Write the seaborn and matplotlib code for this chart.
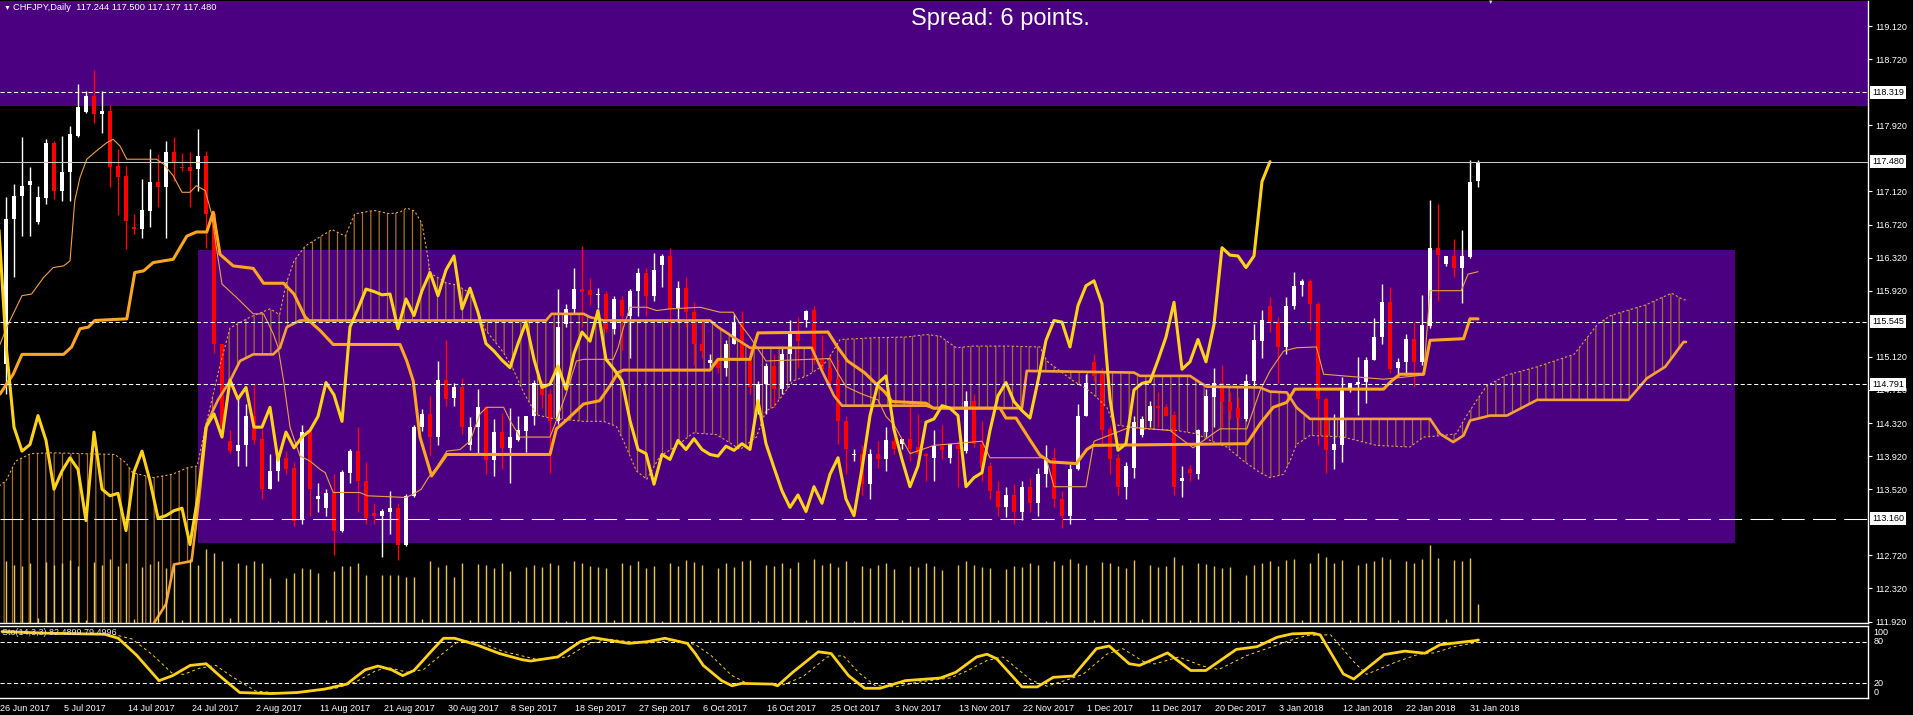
import numpy as np
import pandas as pd
import matplotlib
matplotlib.use("Agg")
import matplotlib.pyplot as plt
from matplotlib.patches import Rectangle
import seaborn as sns

# ---- daily CHFJPY bars (bar 0 = 27 Jun 2017, bar 184 = 1 Feb 2018) ----
opens = [
    115.03, 116.79, 117.06, 117.20, 116.75, 117.04, 117.71, 117.13, 117.35, 117.79,
    118.08, 118.27, 118.06, 118.09, 117.43, 117.31, 116.69, 116.67, 116.88, 117.24,
    117.17, 117.60, 117.42, 117.42, 117.39, 117.55, 116.85, 115.27, 114.10, 113.98,
    114.06, 114.41, 114.13, 113.52, 113.74, 113.90, 113.78, 113.16, 114.21, 113.40,
    113.29, 113.47, 113.02, 113.72, 113.98, 113.62, 113.23, 113.20, 113.25, 113.29,
    112.85, 113.44, 114.27, 114.43, 114.15, 114.84, 114.62, 114.75, 114.06, 114.27,
    114.51, 113.87, 114.21, 114.02, 114.11, 114.22, 114.40, 114.80, 114.67, 114.34,
    115.52, 115.70, 115.94, 115.93, 115.87, 115.88, 115.46, 115.81, 115.62, 115.92,
    116.14, 115.86, 116.23, 116.34, 115.70, 115.95, 115.66, 115.28, 115.04, 115.08,
    114.99, 115.27, 115.54, 115.11, 114.55, 114.79, 115.01, 114.73, 115.16, 115.42,
    115.56, 115.69, 115.09, 114.99, 114.85, 114.35, 113.93, 113.94, 113.58, 113.94,
    113.88, 114.10, 114.07, 114.13, 114.03, 113.95, 113.90, 114.04, 113.90, 114.06,
    113.98, 114.59, 114.07, 113.80, 113.50, 113.30, 113.45, 113.25, 113.55, 113.35,
    113.70, 113.90, 113.40, 113.20, 113.77, 114.41, 115.06, 114.91, 114.25, 113.90,
    113.55, 113.78, 114.17, 114.35, 114.53, 114.51, 114.42, 113.62, 113.76, 113.70,
    114.21, 114.64, 114.81, 114.58, 114.50, 114.37, 114.83, 115.31, 115.74, 115.54,
    115.24, 115.74, 115.99, 116.04, 115.76, 114.61, 113.99, 114.05, 114.73, 114.79,
    114.82, 115.08, 115.36, 115.78, 114.99, 115.06, 115.33, 115.06, 115.49, 116.44,
    116.24, 116.34, 116.20, 116.33, 117.244,
]
highs = [
    117.05, 117.21, 117.78, 117.41, 117.19, 117.75, 117.73, 117.79, 117.91, 118.42,
    118.33, 118.59, 118.33, 118.16, 117.63, 117.43, 116.85, 117.27, 117.63, 117.57,
    117.73, 117.78, 117.59, 117.60, 117.88, 117.61, 116.87, 115.28, 114.24, 114.61,
    114.55, 114.79, 114.25, 113.94, 113.96, 113.98, 113.85, 114.30, 114.27, 113.60,
    113.52, 113.70, 113.75, 114.00, 114.27, 113.85, 113.35, 113.28, 113.50, 113.35,
    113.46, 114.30, 114.49, 114.65, 115.07, 115.32, 114.81, 114.87, 114.39, 114.73,
    114.53, 114.37, 114.44, 114.50, 114.40, 114.40, 114.84, 114.83, 114.73, 115.94,
    115.76, 116.20, 116.46, 116.07, 115.95, 115.92, 115.86, 115.86, 115.94, 116.20,
    116.20, 116.38, 116.36, 116.44, 116.04, 116.08, 115.78, 115.55, 115.15, 115.11,
    115.32, 115.64, 115.68, 115.23, 114.83, 115.05, 115.15, 115.24, 115.56, 115.60,
    115.69, 115.74, 115.39, 115.15, 115.09, 114.41, 114.00, 114.05, 114.00, 114.10,
    114.27, 114.21, 114.13, 114.55, 114.43, 113.96, 114.23, 114.30, 114.07, 114.10,
    114.71, 114.67, 114.34, 113.85, 113.62, 113.55, 113.58, 113.62, 113.65, 113.78,
    114.05, 114.02, 113.50, 113.82, 114.55, 114.91, 115.16, 114.99, 114.29, 113.95,
    113.85, 114.41, 114.41, 114.59, 114.69, 114.55, 114.47, 113.80, 113.81, 114.25,
    114.73, 114.99, 115.02, 114.69, 114.63, 114.91, 115.52, 115.69, 115.84, 115.60,
    115.84, 116.15, 116.06, 116.06, 115.78, 114.63, 114.43, 114.88, 114.81, 115.12,
    115.12, 115.59, 116.00, 115.96, 115.11, 115.40, 115.54, 115.87, 117.02, 116.97,
    116.34, 116.54, 116.65, 117.50, 117.500,
]
lows = [
    114.67, 116.08, 116.58, 116.58, 116.73, 116.97, 117.03, 117.01, 117.01, 117.78,
    118.07, 117.95, 117.83, 117.17, 116.83, 116.42, 116.61, 116.56, 116.69, 116.93,
    116.56, 117.25, 117.37, 116.93, 117.13, 116.44, 115.17, 114.25, 113.96, 113.80,
    113.80, 114.07, 113.40, 113.52, 113.62, 113.70, 113.08, 113.10, 113.20, 113.25,
    113.20, 112.73, 113.00, 113.60, 113.25, 113.10, 113.10, 112.70, 112.98, 112.66,
    112.83, 113.42, 114.22, 113.93, 114.05, 114.53, 114.53, 114.19, 113.99, 113.95,
    113.70, 113.68, 113.76, 113.60, 114.10, 113.97, 114.30, 114.50, 113.72, 114.31,
    115.48, 115.64, 115.48, 115.75, 115.71, 115.42, 115.40, 115.20, 115.11, 115.62,
    115.62, 115.80, 115.97, 115.48, 115.54, 115.48, 115.02, 115.11, 114.99, 114.93,
    114.89, 115.27, 115.09, 114.67, 114.43, 114.43, 114.51, 114.67, 114.83, 114.99,
    115.48, 115.03, 114.95, 114.73, 114.07, 113.70, 113.86, 113.45, 113.40, 113.78,
    113.74, 113.94, 114.00, 113.86, 113.94, 113.62, 113.62, 113.88, 113.84, 113.55,
    113.96, 114.03, 113.62, 113.40, 113.20, 113.18, 113.10, 113.15, 113.25, 113.20,
    113.55, 113.30, 113.05, 113.10, 113.75, 114.40, 114.83, 114.07, 113.70, 113.45,
    113.40, 113.66, 114.15, 114.27, 114.27, 114.41, 113.45, 113.42, 113.62, 113.64,
    114.15, 114.27, 114.27, 114.37, 114.27, 114.35, 114.75, 115.11, 115.42, 114.80,
    115.15, 115.70, 115.85, 115.45, 114.06, 113.72, 113.77, 113.85, 114.69, 114.42,
    114.56, 115.08, 115.27, 114.93, 114.90, 114.90, 114.76, 115.02, 115.47, 115.80,
    116.22, 116.08, 115.77, 116.32, 117.177,
]
closes = [
    116.79, 117.07, 117.19, 117.25, 117.05, 117.71, 117.13, 117.36, 117.81, 118.14,
    118.27, 118.06, 118.09, 117.42, 117.29, 116.76, 116.67, 116.89, 117.24, 117.17,
    117.60, 117.46, 117.40, 117.37, 117.55, 116.85, 115.27, 114.27, 113.98, 114.06,
    114.41, 114.11, 113.52, 113.74, 113.90, 113.76, 113.14, 114.21, 113.52, 113.44,
    113.47, 113.02, 113.73, 113.98, 113.62, 113.17, 113.20, 113.26, 113.29, 112.85,
    113.44, 114.27, 114.43, 114.15, 114.84, 114.61, 114.75, 114.27, 114.27, 114.51,
    113.87, 114.21, 114.02, 114.15, 114.23, 114.40, 114.81, 114.66, 114.34, 115.48,
    115.70, 115.94, 115.91, 115.87, 115.88, 115.46, 115.82, 115.62, 115.92, 116.14,
    115.86, 116.17, 116.34, 115.70, 115.95, 115.66, 115.28, 115.19, 115.08, 114.99,
    115.28, 115.54, 115.09, 114.75, 114.79, 115.01, 114.73, 115.16, 115.42, 115.31,
    115.68, 115.09, 114.97, 114.83, 114.35, 114.00, 113.95, 113.58, 113.94, 113.88,
    114.11, 114.00, 114.13, 114.00, 113.94, 113.92, 114.04, 113.99, 114.07, 114.00,
    114.59, 114.07, 113.78, 113.50, 113.30, 113.45, 113.25, 113.55, 113.35, 113.70,
    113.90, 113.40, 113.20, 113.77, 114.41, 114.80, 114.89, 114.24, 113.88, 113.55,
    113.80, 114.33, 114.37, 114.53, 114.50, 114.41, 113.55, 113.66, 113.72, 114.23,
    114.65, 114.81, 114.58, 114.47, 114.38, 114.83, 115.32, 115.56, 115.54, 115.24,
    115.74, 115.98, 116.04, 115.76, 114.61, 113.99, 114.07, 114.72, 114.80, 114.82,
    115.08, 115.36, 115.78, 114.97, 115.06, 115.33, 115.06, 115.51, 116.44, 116.35,
    116.34, 116.20, 116.34, 117.24, 117.480,
]
tick_volume = [
    62, 58, 57, 60, 5, 61, 58, 60, 63, 57, 3, 61, 58, 64, 57, 60, 4, 56,
    59, 62, 55, 58, 3, 64, 58, 74, 70, 62, 5, 60, 58, 62, 60, 45, 2, 45,
    50, 55, 54, 50, 3, 52, 57, 57, 60, 48, 1, 48, 48, 48, 46, 46, 4, 62,
    56, 58, 46, 60, 3, 59, 58, 55, 60, 52, 2, 56, 58, 56, 60, 58, 2, 62,
    60, 57, 56, 55, 3, 60, 58, 62, 55, 57, 2, 60, 57, 63, 61, 58, 3, 55,
    60, 56, 62, 63, 2, 58, 57, 60, 55, 61, 3, 64, 58, 60, 56, 62, 2, 57,
    55, 58, 60, 54, 3, 57, 56, 60, 57, 53, 2, 58, 62, 58, 56, 55, 3, 54,
    57, 56, 60, 58, 2, 62, 58, 64, 60, 58, 3, 61, 60, 57, 55, 63, 4, 58,
    56, 57, 66, 58, 3, 60, 59, 57, 55, 56, 2, 48,
    58, 60, 62, 57, 63, 64, 3, 60, 70, 66, 60, 63, 3, 58, 60, 62, 66, 64,
    3, 62, 60, 64, 78, 65, 4, 63, 62, 65, 19,
]

date_tick_bars = [-1, 7, 15, 23, 31, 39, 47, 55, 63, 71, 79, 87, 95, 103, 111, 119,
                  127, 135, 143, 151, 159, 167, 175, 183]
date_labels = ["26 Jun 2017", "5 Jul 2017", "14 Jul 2017", "24 Jul 2017", "2 Aug 2017",
               "11 Aug 2017", "21 Aug 2017", "30 Aug 2017", "8 Sep 2017", "18 Sep 2017",
               "27 Sep 2017", "6 Oct 2017", "16 Oct 2017", "25 Oct 2017", "3 Nov 2017",
               "13 Nov 2017", "22 Nov 2017", "1 Dec 2017", "11 Dec 2017", "20 Dec 2017",
               "3 Jan 2018", "12 Jan 2018", "22 Jan 2018", "31 Jan 2018"]

# ---- Ichimoku lines, vertices (bar, price) ----
tenkan_x = [-0.75, 0.1, 0.9, 2, 3.2, 4.7, 5.9, 7.2, 8, 8.6, 9.25, 10.1, 11.3, 12.6, 13.4,
            14.25, 15.1, 18.8, 19.7, 20.9, 22, 23, 23.8, 24.9, 25.7, 26.3, 27, 28.8, 30.9,
            32.2, 33.4, 34, 34.7, 35.5, 36.75, 38, 39.25, 39.9, 40.9, 44.2, 45.2, 50, 50.9,
            51.9, 52.8, 53.8, 55.1, 56.75, 58, 59.25, 60.1, 62.2, 63, 64.25, 68, 68.8, 70,
            71.3, 72.2, 75.9, 76.5, 77.2, 78, 80.1, 81.3, 83, 86.75, 89.25, 90.9, 91.75, 93,
            95, 103, 104, 105, 107, 109, 110, 111, 113, 116, 122, 123, 130, 131, 135, 136,
            140.5, 145.5, 148.4, 151.75, 155.1, 156.75, 158, 159.7, 161.3, 163.8, 164.7,
            172.2, 177.2, 178, 181.9, 182.75, 184]
tenkan_y = [115.27, 115.48, 115.64, 115.86, 115.88, 116.08, 116.20, 116.22, 116.28, 117.01,
            117.29, 117.51, 117.61, 117.71, 117.75, 117.67, 117.51, 117.51, 117.45, 117.31,
            117.11, 117.11, 117.19, 117.13, 116.85, 116.44, 116.00, 115.84, 115.64, 115.64,
            115.40, 115.24, 114.83, 114.27, 113.92, 113.86, 113.76, 113.72, 113.48, 113.48,
            113.44, 113.42, 113.46, 113.52, 113.66, 113.78, 113.98, 114.00, 114.10, 114.43,
            114.51, 114.51, 114.35, 114.15, 114.15, 114.35, 114.67, 115.07, 115.09, 115.09,
            115.23, 115.48, 115.72, 115.72, 115.68, 115.70, 115.72, 115.66, 115.66, 115.52,
            115.36, 115.07, 115.10, 114.92, 114.76, 114.67, 114.60, 114.40, 114.30, 113.95,
            114.05, 114.10, 113.90, 113.90, 113.55, 113.55, 114.10, 114.27, 114.23, 114.02,
            114.25, 114.25, 114.71, 114.95, 115.19, 115.23, 115.24, 114.91, 114.85, 114.90,
            115.92, 115.92, 116.12, 116.15]
kijun_x = [-0.75, 0.9, 2, 7.2, 8.2, 9.25, 10.3, 11.1, 15.1, 16.1, 17.2, 18.4, 20.9, 22.6,
           23.8, 25.1, 25.9, 26.75, 28.4, 30.9, 32.2, 34.7, 36, 37.4, 39.25, 40.9, 49.25,
           50.1, 50.9, 51.75, 53.2, 55.1, 68, 68.8, 70, 72.2, 74.2, 75.5, 76.5, 77.2, 88,
           89, 93, 94, 102.75, 104, 105.2, 107.3, 109, 109.9, 110.75, 115, 115.9, 124.25,
           125, 126.25, 127.9, 129.25, 130.5, 133.8, 135.1, 135.9, 155.1, 156.75, 158.4,
           160.1, 161.1, 172.2, 173.2, 174.25, 177.2, 178, 182.2, 183, 184]
kijun_y = [114.67, 114.91, 115.15, 115.15, 115.24, 115.46, 115.48, 115.56, 115.58, 116.14,
           116.16, 116.26, 116.30, 116.58, 116.63, 116.63, 116.87, 116.36, 116.22, 116.19,
           116.01, 116.01, 115.88, 115.60, 115.44, 115.27, 115.27, 115.07, 114.83, 114.15,
           113.68, 113.94, 113.94, 114.25, 114.35, 114.55, 114.59, 114.77, 114.93, 114.96,
           114.96, 115.09, 115.09, 115.41, 115.42, 115.23, 115.07, 114.93, 114.77, 114.69,
           114.58, 114.56, 114.50, 114.50, 114.38, 114.38, 114.13, 113.93, 113.85, 113.83,
           114.00, 114.05, 114.07, 114.31, 114.51, 114.57, 114.73, 114.73, 114.83, 114.91,
           114.91, 115.32, 115.34, 115.58, 115.58]
senkou_a_x = [-1, 0, 1.2, 3.1, 5.5, 13.6, 15, 15.8, 18.4, 20.8, 22.7, 23.9, 25, 26.7, 28,
              30.5, 33, 34.2, 35, 36, 37.4, 40.75, 42.4, 43.6, 46, 48, 49.25, 50.1, 51.1, 52,
              52.8, 53, 53.8, 55.1, 56.3, 58, 59.25, 59.9, 60.9, 62.2, 63.4, 64.7, 66.3, 68,
              72.2, 74.7, 76.3, 77.2, 78.8, 80.1, 81.75, 83.8, 85.9, 88.8, 90.5, 91.75, 93.8,
              95, 95.9, 97.2, 98.4, 100.1, 101.75, 102.6, 103.4, 104.25, 108.4, 112.6, 115.1,
              116.75, 117.6, 118.8, 120.9, 125.1, 129.25, 130.1, 131.75, 133.4, 135.1, 135.9,
              137.6, 138.5, 142.2, 146.3, 148.8, 150.5, 152.6, 154.7, 156.75, 158, 159.7,
              160.5, 161.3, 163, 167.2, 171.3, 175.5, 177.2, 179.7, 181.3, 182.2, 183.8,
              185.1, 187.6, 191.4, 196, 199, 200.6, 205, 208.2, 209.7, 210]
senkou_a_y = [113.55, 113.62, 113.86, 113.95, 113.96, 113.94, 113.84, 113.72, 113.66, 113.70,
              113.78, 113.80, 114.30, 115.00, 115.47, 115.60, 115.70, 115.63, 116.00, 116.28,
              116.46, 116.66, 116.58, 116.85, 116.89, 116.85, 116.87, 116.92, 116.88, 116.73,
              116.29, 116.13, 116.09, 116.01, 115.99, 115.89, 115.61, 115.45, 115.33, 115.17,
              114.97, 114.69, 114.42, 114.38, 114.34, 114.34, 114.28, 114.10, 113.74, 113.64,
              113.92, 114.04, 114.20, 114.18, 114.08, 114.00, 114.15, 114.47, 114.51, 114.67,
              114.83, 114.89, 114.99, 115.07, 115.19, 115.33, 115.35, 115.36, 115.39, 115.37,
              115.31, 115.23, 115.25, 115.25, 115.24, 115.07, 114.95, 114.83, 114.73, 114.67,
              114.51, 114.30, 114.25, 114.23, 114.19, 114.11, 114.03, 113.86, 113.72, 113.66,
              113.70, 113.86, 114.06, 114.17, 114.15, 114.05, 114.03, 114.15, 114.17, 114.19,
              114.35, 114.59, 114.77, 114.90, 115.00, 115.15, 115.52, 115.62, 115.75, 115.89,
              115.81, 115.81]
senkou_b_x = [-1, 17.7, 18.5, 20, 21, 23.2, 24.1, 25.1, 26.5, 28, 29.25, 30.9, 33.4, 34.25,
              35.1, 36.75, 67.5, 68.2, 72.2, 73, 74.7, 88, 89, 90.9, 93, 100.7, 102, 103.5,
              104.5, 115, 116, 127, 127.6, 141, 141.75, 148, 149.25, 150.1, 156.75, 158, 160.1,
              161.3, 163, 178, 179.25, 180.9, 182.2, 183, 185.5, 187.6, 191.4, 202.8, 205.1,
              207.4, 209.7, 210]
senkou_b_y = [111.5, 111.6, 111.9, 112.13, 112.61, 112.65, 113.38, 114.31, 114.60, 114.83,
              115.07, 115.15, 115.15, 115.23, 115.48, 115.56, 115.56, 115.64, 115.64, 115.60,
              115.56, 115.56, 115.48, 115.36, 115.23, 115.23, 114.95, 114.65, 114.53, 114.53,
              114.50, 114.50, 114.95, 114.93, 114.89, 114.89, 114.81, 114.76, 114.75, 114.70,
              114.69, 114.51, 114.37, 114.37, 114.19, 114.09, 114.17, 114.35, 114.41, 114.41,
              114.60, 114.60, 114.86, 115.00, 115.30, 115.30]
chikou_shift = 26

# ---- Stochastic(14,3,3) vertices (bar, value) ----
stoch_k_x = [-0.75, 4.9, 12.1, 13.8, 16.1, 18.9, 20.6, 22.8, 24.8, 26.7, 29, 32.9, 36.2, 39.6,
             42.4, 44.7, 46.3, 48, 49.4, 50.8, 53.1, 54.5, 55.9, 58.7, 61.5, 64.3, 65.4, 68.8,
             71.6, 73.2, 75.5, 77.7, 80, 82.2, 85, 86, 87, 89.3, 90.6, 91.8, 95.7, 96.3, 98.2,
             101.4, 103, 105.2, 107.2, 109.1, 112.3, 116.7, 118.6, 121.2, 122.5, 123.7, 126.9,
             128.8, 130.8, 133.3, 136.2, 137.8, 140.3, 141.6, 145.1, 148, 149.9, 153.7, 156.3,
             158.8, 160.7, 163.3, 164.2, 167.1, 168.4, 172.2, 174.8, 177.3, 179.2, 183.7, 184]
stoch_k_y = [94.6, 92.2, 90.7, 84.9, 60.5, 23.9, 31.2, 45.9, 48.3, 28.8, 6.9, 5.4, 6.9, 11.8,
             19.1, 39.6, 45.0, 39.6, 31.2, 38.6, 67.9, 84.9, 84.9, 75.2, 63.0, 54.2, 52.2, 58.1,
             80.0, 85.9, 81.5, 77.6, 80.0, 84.9, 77.6, 63.0, 45.9, 24.0, 16.6, 20.0, 19.0, 16.6,
             36.0, 65.5, 63.0, 31.0, 13.0, 13.0, 24.0, 27.8, 36.0, 58.0, 62.0, 55.6, 15.0, 15.0,
             28.8, 30.7, 70.0, 73.8, 48.3, 45.9, 63.9, 38.6, 38.6, 68.9, 72.8, 86.4, 91.3, 92.2,
             89.8, 33.6, 26.3, 61.5, 66.4, 63.4, 75.6, 81.7, 82.5]
stoch_d_x = [-0.75, 6, 13, 15.5, 18, 20.5, 22, 24, 26, 28, 31, 34, 37.5, 41, 43.5, 46, 47.5, 50,
             52, 54.5, 56.5, 59, 62, 66, 70, 72.5, 75, 77, 80, 83.5, 86, 88, 90.5, 92.5, 97,
             99.5, 102.5, 104.5, 106.5, 108.5, 111, 114, 118, 120, 122.5, 124.5, 128, 130,
             132.5, 134.5, 137.5, 139.5, 142, 143.5, 146.5, 149.5, 151.5, 155, 158, 160.5,
             162.5, 165.5, 168.5, 170, 173.5, 176.5, 178.5, 181, 184]
stoch_d_y = [93, 92.5, 91, 84, 62, 35, 33, 42, 46, 30, 9, 6, 8, 13, 22, 38, 43, 36, 40, 64, 82,
             79, 66, 55, 58, 76, 84, 81, 78, 82, 76, 60, 32, 20, 18, 30, 58, 60, 35, 17, 15, 22,
             28, 38, 53, 58, 25, 16, 25, 33, 62, 70, 52, 48, 58, 45, 40, 60, 72, 82, 89, 90, 50,
             33, 50, 62, 64, 73, 79.5]

# ---- chart objects ----
# regular price-scale labels (the ones hidden under the level boxes are left out)
price_ticks = [111.92, 112.32, 112.72, 113.52, 113.92, 114.32, 114.72, 115.12,
               115.92, 116.32, 116.72, 117.12, 117.92, 118.72, 119.12]
level_prices = [118.319, 117.480, 115.545, 114.791, 113.160]
level_styles = [(0, (4, 2.5)), "-", (0, (4, 2.5)), (0, (4, 2.5)), (0, (22, 8))]
level_colors = ["white", "#C8C8C8", "white", "white", "white"]
top_zone_low = 118.157
zone_bars = [24.04, 216.1]
zone_prices = [112.87, 116.41]

ZONE = "#4B0082"
CHIKOU = "#FFD21A"
KIJUN = "#FFA51E"
TENKAN = "#F0A040"
SPAN_B = "#F7A035"
SPAN_A = "#E8A048"
HATCH = "#A86E2C"
VOL = "#E8C45C"

sns.set_style("dark")
plt.rcParams["font.family"] = ["Liberation Sans", "DejaVu Sans"]
plt.rcParams["hatch.linewidth"] = 0.9

df = pd.DataFrame({"open": opens, "high": highs, "low": lows, "close": closes,
                   "volume": tick_volume})
df["bar"] = np.arange(len(df))

W, H = 1913, 715
fig = plt.figure(figsize=(W / 100, H / 100), dpi=100, facecolor="black")
ax = fig.add_axes([0, 1 - 623 / H, 1868 / W, 622 / H])
ax_st = fig.add_axes([0, 1 - 698.3 / H, 1868 / W, 72.6 / H])
for a in (ax, ax_st):
    a.set_facecolor("black")
    a.grid(False)


def line(axis, xs, ys, color, lw, ls="-", z=3):
    sns.lineplot(x=xs, y=ys, ax=axis, color=color, linewidth=lw, linestyle=ls,
                 estimator=None, sort=False, legend=False, zorder=z)


# background zones
ax.axhspan(top_zone_low, 120, color=ZONE, lw=0, zorder=0)
ax.add_patch(Rectangle((zone_bars[0], zone_prices[0]), zone_bars[1] - zone_bars[0],
                       zone_prices[1] - zone_prices[0], color=ZONE, lw=0, zorder=0))

# kumo cloud
ax.fill(senkou_a_x + senkou_b_x[::-1], senkou_a_y + senkou_b_y[::-1],
        facecolor="none", edgecolor=HATCH, hatch="||", lw=0, zorder=1)

# candles
up = df["close"] >= df["open"]
colors = np.where(up, "white", "#FF0000")
ax.vlines(df["bar"], df["low"], df["high"], colors=colors, lw=1, zorder=2)
body = (df["close"] - df["open"]).abs().clip(lower=0.012)
ax.bar(df["bar"], body, bottom=df[["open", "close"]].min(axis=1), width=0.62,
       color=colors, lw=0, zorder=2.1)

# ichimoku lines
line(ax, senkou_a_x, senkou_a_y, SPAN_A, 0.8, ls=(0, (2, 2)), z=3)
line(ax, senkou_b_x, senkou_b_y, SPAN_B, 1.9, z=3)
line(ax, tenkan_x, tenkan_y, TENKAN, 0.8, z=3.2)
line(ax, kijun_x, kijun_y, KIJUN, 2.2, z=3.3)
line(ax, list(df["bar"] - chikou_shift), closes, CHIKOU, 2.2, z=3.4)

# horizontal levels and their boxed price labels
for p, st, c in zip(level_prices, level_styles, level_colors):
    ax.axhline(p, color=c, lw=0.75, ls=st, zorder=4)
    ax.annotate(f"{p:.3f}", xy=(1, p), xycoords=("axes fraction", "data"), xytext=(3.2, 0),
                textcoords="offset points", va="center", ha="left", fontsize=6.5,
                color="black", annotation_clip=False, zorder=10,
                bbox=dict(boxstyle="square,pad=0.22", fc="white", ec="none"))

# tick volume
ax_v = ax.twinx()
ax_v.vlines(df["bar"], 0, df["volume"], color=VOL, lw=1)
ax_v.set_ylim(0, 622)
ax_v.axis("off")

ax.set_xlim(-0.75, 232.75)
ax.set_ylim(111.902, 119.423)
ax.yaxis.tick_right()
ax.set_yticks(price_ticks)
ax.set_yticklabels([f"{p:.3f}" for p in price_ticks])
ax.tick_params(axis="y", colors="white", labelsize=6.5, length=3, width=0.8, pad=2)
ax.tick_params(axis="x", bottom=False, labelbottom=False)
ax.set_xlabel("")
ax.set_ylabel("")
for s in ("left", "top"):
    ax.spines[s].set_visible(False)
for s in ("right", "bottom"):
    ax.spines[s].set_color("white")
    ax.spines[s].set_linewidth(1)

# stochastic panel
ax_st.axhline(80, color="white", lw=0.75, ls=(0, (4, 2.5)), zorder=1)
ax_st.axhline(20, color="white", lw=0.75, ls=(0, (4, 2.5)), zorder=1)
line(ax_st, stoch_d_x, stoch_d_y, CHIKOU, 0.7, ls=(0, (3, 3)), z=2)
line(ax_st, stoch_k_x, stoch_k_y, CHIKOU, 2.0, z=3)
ax_st.set_xlim(-0.75, 232.75)
ax_st.set_ylim(-1.4, 103)
ax_st.yaxis.tick_right()
ax_st.set_yticks([0, 20, 80, 100])
ax_st.set_yticklabels(["0", "20", "80", "100"])
for lab, va in zip(ax_st.get_yticklabels(), ["bottom", "center", "center", "top"]):
    lab.set_va(va)
ax_st.tick_params(axis="y", colors="white", labelsize=6.5, length=0, pad=4)
ax_st.set_xticks(date_tick_bars)
ax_st.set_xticklabels(date_labels, ha="left")
ax_st.tick_params(axis="x", colors="white", labelsize=6.5, length=3, width=0.8, pad=1)
ax_st.set_xlabel("")
ax_st.set_ylabel("")
ax_st.spines["left"].set_visible(False)
for s in ("right", "top", "bottom"):
    ax_st.spines[s].set_color("white")
    ax_st.spines[s].set_linewidth(1)
ax_st.text(2 / 1868, 0.97, "Sto(14,3,3) 82.4899 79.4996", transform=ax_st.transAxes,
           va="top", ha="left", fontsize=6.5, color="#E0E0E0", zorder=5)

# header texts
fig.text(4 / W, 1 - 8 / H, "\u25BC", fontsize=5, color="white", va="center", ha="left")
fig.text(13 / W, 1 - 8 / H, "CHFJPY,Daily  117.244 117.500 117.177 117.480",
         fontsize=6.7, color="white", va="center", ha="left")
fig.text(1000 / W, 1 - 19 / H, "Spread: 6 points.", fontsize=17, color="white",
         va="center", ha="center")
fig.text(1491 / W, 1 - 2 / H, "\u25BC", fontsize=4, color="#D8D8D8", va="center", ha="center")

fig.savefig("out.png", dpi=100, facecolor="black")
